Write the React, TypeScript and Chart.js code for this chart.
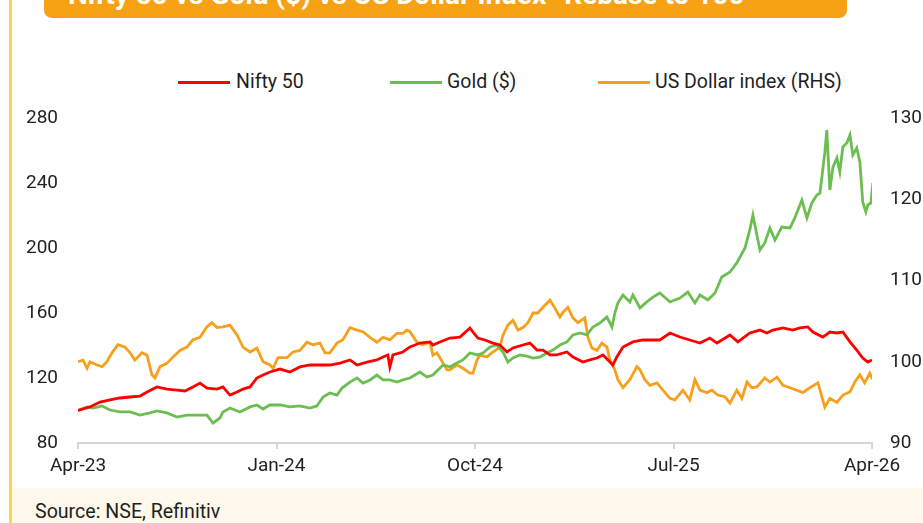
import React, { useEffect, useRef } from "react";
import { Chart, registerables } from "chart.js";

Chart.register(...registerables);

// x values are months since Apr-23
const xTickLabels = ["Apr-23", "Jan-24", "Oct-24", "Jul-25", "Apr-26"];

const niftyMonths = [0, 0.54, 1.0, 1.45, 1.9, 2.36, 2.81, 3.13, 3.58, 4.03, 4.49, 4.85, 5.21, 5.53, 5.85, 6.3, 6.57, 6.89, 7.21, 7.48, 7.8, 8.11, 8.39, 8.7, 9.16, 9.61, 10.06, 10.52, 10.97, 11.42, 11.88, 12.33, 12.65, 13.1, 13.55, 13.83, 14.05, 14.14, 14.28, 14.73, 15.05, 15.5, 15.96, 16.09, 16.41, 16.86, 17.32, 17.77, 17.91, 18.13, 18.45, 18.81, 19.13, 19.45, 19.72, 20.17, 20.49, 20.81, 21.08, 21.4, 21.71, 22.17, 22.44, 22.89, 23.21, 23.53, 23.8, 24.12, 24.25, 24.43, 24.71, 25.16, 25.61, 26.07, 26.38, 26.84, 27.29, 27.74, 28.2, 28.65, 28.97, 29.56, 29.92, 30.46, 30.92, 31.23, 31.51, 31.96, 32.41, 32.73, 33.09, 33.32, 33.77, 34.09, 34.41, 34.68, 35.0, 35.31, 35.58, 35.81, 36.0];
const niftyValues = [100, 102.2, 105.2, 106.5, 107.7, 108.3, 108.9, 111.4, 114.5, 113.2, 112.6, 112.0, 114.5, 116.9, 113.8, 113.2, 114.5, 109.5, 111.4, 113.2, 114.5, 120.0, 121.8, 123.7, 125.5, 123.7, 126.8, 128.0, 128.0, 128.0, 129.2, 131.1, 128.0, 129.8, 131.1, 132.9, 134.2, 126.8, 134.2, 136.0, 139.1, 141.5, 142.2, 140.3, 142.2, 144.6, 145.2, 150.8, 148.3, 144.6, 143.4, 141.5, 140.3, 136.0, 138.5, 140.3, 141.5, 137.2, 137.2, 134.2, 134.2, 136.0, 132.9, 129.8, 131.1, 132.3, 134.2, 129.8, 128.0, 132.9, 139.1, 142.2, 143.4, 143.4, 143.4, 147.7, 145.2, 143.4, 141.5, 144.6, 141.5, 146.5, 142.2, 147.7, 149.5, 147.7, 149.5, 150.8, 149.5, 150.8, 151.4, 148.3, 145.2, 148.3, 147.7, 148.3, 142.2, 137.2, 132.3, 129.8, 131.1];

const goldMonths = [0, 0.41, 0.68, 1.09, 1.45, 1.9, 2.36, 2.81, 3.26, 3.58, 4.03, 4.49, 4.94, 5.39, 5.85, 6.12, 6.44, 6.57, 6.89, 7.34, 7.8, 8.11, 8.39, 8.7, 9.16, 9.61, 10.06, 10.52, 10.83, 11.11, 11.42, 11.74, 11.97, 12.33, 12.65, 12.92, 13.24, 13.55, 13.83, 14.14, 14.46, 14.73, 15.05, 15.5, 15.82, 16.09, 16.55, 16.86, 17.18, 17.45, 17.77, 18.13, 18.36, 18.68, 18.99, 19.27, 19.49, 19.72, 20.04, 20.35, 20.63, 20.94, 21.26, 21.53, 21.85, 22.17, 22.44, 22.76, 23.07, 23.35, 23.66, 23.98, 24.21, 24.34, 24.48, 24.71, 25.02, 25.16, 25.48, 25.79, 26.07, 26.38, 26.84, 27.29, 27.65, 27.97, 28.2, 28.56, 28.88, 29.19, 29.56, 29.87, 30.24, 30.46, 30.6, 30.78, 30.92, 31.14, 31.37, 31.6, 31.91, 32.28, 32.5, 32.82, 33.05, 33.27, 33.5, 33.64, 33.86, 33.95, 34.09, 34.23, 34.41, 34.54, 34.68, 34.86, 35.0, 35.13, 35.31, 35.45, 35.58, 35.72, 35.81, 35.95, 36.04];
const goldValues = [100, 102.2, 101.5, 102.8, 100.3, 99.1, 99.1, 97.2, 98.5, 99.7, 98.5, 96.0, 97.2, 97.2, 97.2, 92.3, 95.4, 99.1, 101.5, 99.1, 102.2, 103.4, 100.9, 103.4, 103.4, 102.2, 102.8, 101.5, 102.8, 108.3, 110.8, 109.5, 113.8, 117.5, 120.0, 116.9, 118.8, 121.8, 118.8, 118.8, 117.5, 118.8, 120.0, 123.7, 120.6, 121.8, 128.0, 126.8, 129.2, 131.1, 135.4, 134.2, 135.4, 139.1, 140.3, 136.0, 129.8, 132.3, 134.2, 133.5, 132.3, 132.9, 135.4, 137.2, 140.3, 142.2, 146.5, 147.7, 146.5, 151.4, 153.8, 157.5, 151.4, 160.0, 166.2, 171.1, 166.8, 171.1, 163.1, 166.8, 169.8, 172.3, 166.8, 169.2, 172.9, 166.2, 171.1, 168.0, 172.3, 182.2, 185.2, 190.8, 200.0, 211.1, 220.3, 208.0, 198.8, 203.1, 212.3, 204.9, 212.9, 212.3, 218.5, 229.5, 218.5, 227.7, 232.6, 233.8, 258.5, 272.6, 235.7, 249.8, 255.4, 246.8, 262.2, 264.6, 269.5, 257.2, 261.5, 252.9, 228.3, 222.2, 226.5, 227.7, 240.0];

const usdMonths = [0, 0.23, 0.41, 0.54, 0.86, 1.09, 1.31, 1.54, 1.81, 2.13, 2.36, 2.58, 2.9, 3.13, 3.35, 3.49, 3.72, 4.03, 4.31, 4.62, 4.94, 5.21, 5.53, 5.85, 6.07, 6.3, 6.57, 6.89, 7.21, 7.48, 7.8, 8.11, 8.39, 8.7, 8.84, 9.07, 9.47, 9.75, 10.06, 10.38, 10.65, 10.97, 11.2, 11.42, 11.74, 12.01, 12.33, 12.65, 12.92, 13.24, 13.55, 13.83, 14.14, 14.46, 14.73, 14.91, 15.05, 15.37, 15.64, 15.96, 16.09, 16.27, 16.41, 16.73, 16.86, 17.18, 17.45, 17.77, 17.91, 18.09, 18.22, 18.54, 18.81, 19.13, 19.27, 19.49, 19.72, 19.95, 20.17, 20.4, 20.63, 20.85, 21.08, 21.4, 21.62, 21.85, 21.99, 22.21, 22.44, 22.67, 22.98, 23.12, 23.3, 23.53, 23.75, 23.98, 24.12, 24.34, 24.48, 24.71, 25.02, 25.34, 25.48, 25.7, 25.93, 26.25, 26.52, 26.84, 27.06, 27.43, 27.74, 27.97, 28.2, 28.51, 28.74, 29.01, 29.33, 29.56, 29.87, 30.1, 30.33, 30.55, 30.78, 31.14, 31.37, 31.69, 31.96, 32.28, 32.59, 32.87, 33.18, 33.55, 33.86, 34.09, 34.41, 34.68, 35.0, 35.22, 35.45, 35.67, 35.9, 36.04];
const usdValues = [100.0, 100.2, 99.2, 100.0, 99.6, 99.4, 100.0, 101.1, 102.1, 101.8, 101.1, 100.2, 101.1, 100.8, 98.4, 98.0, 99.4, 99.8, 100.6, 101.4, 101.8, 102.7, 103.0, 104.3, 104.8, 104.2, 104.3, 104.5, 103.3, 101.8, 101.2, 101.7, 100.0, 99.6, 99.2, 100.5, 100.5, 101.2, 101.4, 102.4, 102.1, 102.3, 101.1, 101.1, 102.3, 102.7, 104.2, 103.9, 103.7, 103.0, 102.4, 103.0, 102.7, 103.5, 103.5, 103.9, 103.7, 102.4, 102.1, 102.4, 100.8, 101.1, 100.5, 99.0, 99.0, 99.6, 99.2, 98.6, 98.6, 100.2, 100.8, 100.6, 101.2, 101.8, 103.3, 104.5, 105.1, 103.9, 104.2, 104.8, 106.0, 106.0, 106.7, 107.6, 106.6, 105.5, 106.1, 106.7, 105.4, 104.8, 105.4, 103.0, 101.7, 101.4, 102.3, 101.8, 100.2, 99.0, 97.8, 96.8, 97.8, 99.4, 99.0, 97.8, 97.1, 97.4, 96.5, 95.5, 95.3, 96.5, 95.3, 97.8, 96.5, 96.2, 96.5, 95.9, 95.7, 94.9, 96.5, 95.5, 97.5, 96.8, 96.9, 98.0, 97.5, 98.1, 97.1, 96.8, 96.5, 96.2, 96.8, 97.4, 94.4, 95.5, 95.0, 95.9, 96.3, 97.5, 98.4, 97.4, 98.6, 97.8];

const seriesNames = ["Nifty 50", "Gold ($)", "US Dollar index (RHS)"];
const seriesColors = ["#FF0000", "#6BBE4F", "#F7A01B"];

const FONT = "Roboto, 'Noto Sans', sans-serif";
const TEXT = "#1f1f1f";

function pts(xs: number[], ys: number[]) {
  return xs.map((x, i) => ({ x, y: ys[i] }));
}

export default function App() {
  const ref = useRef<HTMLCanvasElement>(null);

  useEffect(() => {
    const tickFont = { family: FONT, size: 19 };
    const chart = new Chart(ref.current as HTMLCanvasElement, {
      type: "line",
      data: {
        datasets: [
          { label: seriesNames[0], data: pts(niftyMonths, niftyValues), borderColor: seriesColors[0], backgroundColor: seriesColors[0], borderWidth: 2.8, pointRadius: 0, yAxisID: "y", tension: 0 },
          { label: seriesNames[1], data: pts(goldMonths, goldValues), borderColor: seriesColors[1], backgroundColor: seriesColors[1], borderWidth: 2.8, pointRadius: 0, yAxisID: "y", tension: 0 },
          { label: seriesNames[2], data: pts(usdMonths, usdValues), borderColor: seriesColors[2], backgroundColor: seriesColors[2], borderWidth: 2.8, pointRadius: 0, yAxisID: "y1", tension: 0 },
        ],
      },
      options: {
        responsive: false,
        animation: false,
        layout: { padding: { top: 118, left: 0, right: 0, bottom: 0 } },
        plugins: { legend: { display: false }, tooltip: { enabled: false } },
        scales: {
          x: {
            type: "linear",
            min: 0,
            max: 36,
            ticks: {
              stepSize: 9,
              autoSkip: false,
              maxRotation: 0,
              padding: 6,
              color: TEXT,
              font: tickFont,
              callback: (v: any) => xTickLabels[Math.round(Number(v) / 9)] ?? "",
            },
            grid: { display: true, drawOnChartArea: false, drawTicks: true, tickLength: 6, color: "#d6d6d6", lineWidth: 2 },
            border: { display: true, color: "#d6d6d6", width: 2 },
            afterFit: (s: any) => { s.height = 47; },
          },
          y: {
            position: "left",
            min: 80,
            max: 280,
            ticks: { stepSize: 40, padding: 12, color: TEXT, font: tickFont },
            grid: { display: false },
            border: { display: false },
            afterFit: (s: any) => { s.width = 78; },
          },
          y1: {
            position: "right",
            min: 90,
            max: 130,
            ticks: { stepSize: 10, padding: 10, color: TEXT, font: tickFont },
            grid: { display: false },
            border: { display: false },
            afterFit: (s: any) => { s.width = 51; },
          },
        },
      } as any,
    });
    return () => chart.destroy();
  }, []);

  const legendItems = [
    { line: 178, text: 236 },
    { line: 390, text: 447 },
    { line: 598, text: 655 },
  ];

  return (
    <div style={{ position: "absolute", left: 0, top: 0, width: 923, height: 523, overflow: "hidden", background: "#fff", fontFamily: FONT }}>
      <div style={{ position: "absolute", left: 44, top: -20, width: 803, height: 38, background: "#F7A114", borderRadius: 8 }}>
        <div style={{ position: "absolute", left: 24, top: 1, fontSize: 28, lineHeight: "28px", fontWeight: 700, color: "#fff", whiteSpace: "nowrap" }}>
          Nifty 50 vs Gold ($) vs US Dollar Index- Rebase to 100
        </div>
      </div>
      <div style={{ position: "absolute", left: 12, top: 488, width: 911, height: 35, background: "#FEF9EA" }} />
      <div style={{ position: "absolute", left: 35, top: 501, fontSize: 19.6, lineHeight: "22px", color: TEXT, whiteSpace: "nowrap" }}>
        Source: NSE, Refinitiv
      </div>
      <div style={{ position: "absolute", left: 9, top: 0, width: 3, height: 523, background: "#FDD44C" }} />
      {legendItems.map((it, i) => (
        <React.Fragment key={i}>
          <div style={{ position: "absolute", left: it.line, top: 81, width: 52, height: 3, background: seriesColors[i] }} />
          <div style={{ position: "absolute", left: it.text, top: 71, fontSize: 19.5, lineHeight: "22px", color: TEXT, whiteSpace: "nowrap" }}>
            {seriesNames[i]}
          </div>
        </React.Fragment>
      ))}
      <canvas ref={ref} width={923} height={490} style={{ position: "absolute", left: 0, top: 0, width: 923, height: 490 }} />
    </div>
  );
}
